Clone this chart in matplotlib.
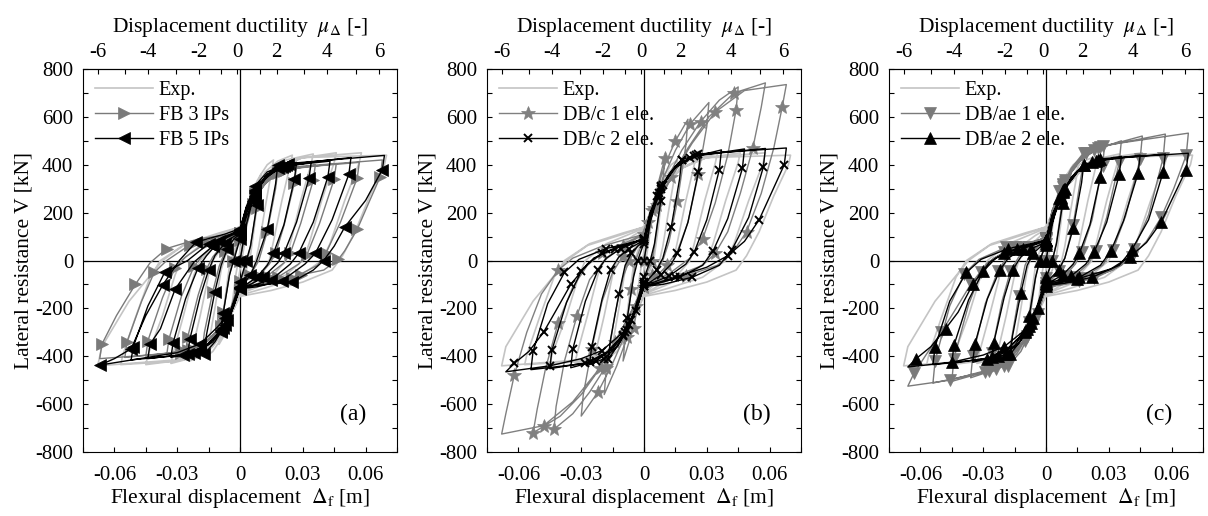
import matplotlib.pyplot as plt
import numpy as np

plt.rcParams['font.family'] = ['Liberation Serif', 'DejaVu Serif']
plt.rcParams['mathtext.fontset'] = 'stix'
plt.rcParams['axes.unicode_minus'] = False

# ---- data: (flexural displacement [m], lateral force [kN]) ----
exp_path = [
    (0, 0), (0.002, 120), (0.004, 210), (0.005, 250),
    (0.004, 200), (0.002, 60), (0, -40), (-0.002, -130), (-0.004, -220), (-0.005, -260),
    (-0.004, -200), (-0.002, -60), (0, 40), (0.002, 130), (0.005, 250), (0.008, 330), (0.010, 360),
    (0.009, 300), (0.007, 150), (0.005, 20), (0.003, -40), (0, -90), (-0.002, -160), (-0.005, -260), (-0.008, -320), (-0.010, -350),
    (-0.009, -290), (-0.007, -150), (-0.005, -20), (-0.003, 40), (0, 100), (0.002, 170), (0.005, 260), (0.010, 360), (0.013, 400), (0.016, 420),
    (0.015, 370), (0.012, 220), (0.009, 60), (0.007, -20), (0.004, -70), (0, -120), (-0.003, -190), (-0.006, -270), (-0.010, -340), (-0.013, -380), (-0.016, -400),
    (-0.015, -350), (-0.012, -200), (-0.009, -40), (-0.007, 20), (-0.003, 70), (0, 120), (0.003, 200), (0.007, 290), (0.012, 370), (0.018, 415), (0.025, 440),
    (0.024, 400), (0.020, 250), (0.016, 80), (0.014, 0), (0.010, -60), (0.005, -100), (0, -140), (-0.004, -220), (-0.008, -300), (-0.013, -360), (-0.018, -395), (-0.024, -420),
    (-0.023, -380), (-0.019, -230), (-0.015, -60), (-0.013, 0), (-0.008, 60), (-0.003, 100), (0, 130), (0.004, 220), (0.009, 310), (0.015, 380), (0.022, 420), (0.035, 445),
    (0.034, 405), (0.029, 250), (0.024, 70), (0.022, 0), (0.016, -60), (0.008, -100), (0, -140), (-0.004, -220), (-0.009, -310), (-0.015, -370), (-0.022, -405), (-0.033, -430),
    (-0.032, -390), (-0.027, -230), (-0.022, -60), (-0.019, 0), (-0.012, 60), (-0.005, 105), (0, 130), (0.004, 210), (0.010, 310), (0.017, 380), (0.027, 425), (0.046, 450),
    (0.045, 410), (0.039, 250), (0.033, 70), (0.030, 0), (0.022, -60), (0.010, -105), (0, -140), (-0.004, -220), (-0.010, -320), (-0.017, -380), (-0.027, -415), (-0.045, -435),
    (-0.044, -395), (-0.037, -230), (-0.031, -60), (-0.028, 0), (-0.018, 70), (-0.007, 110), (0, 135), (0.004, 215), (0.010, 310), (0.018, 385), (0.030, 430), (0.058, 450),
    (0.057, 410), (0.050, 250), (0.043, 70), (0.039, 0), (0.028, -70), (0.012, -115), (0, -145), (-0.004, -220), (-0.010, -320), (-0.018, -385), (-0.030, -420), (-0.057, -435),
    (-0.056, -395), (-0.050, -240), (-0.043, -70), (-0.038, 0), (-0.026, 70), (-0.010, 115), (0, 140), (0.004, 220), (0.010, 310), (0.018, 390), (0.030, 430), (0.070, 440),
    (0.069, 400), (0.062, 270), (0.055, 120), (0.049, 20), (0.044, -40), (0.030, -90), (0.015, -125), (0, -150), (-0.004, -220), (-0.010, -315), (-0.018, -380), (-0.030, -415), (-0.068, -440),
    (-0.066, -360), (-0.053, -170), (-0.037, 0), (-0.027, 63), (-0.010, 110), (0, 140),
]

fb3_path = [
    (0, 0), (0.003, 140), (0.006, 235), (0.009, 290),
    (0.008, 220), (0.005, 60), (0.0035, 0), (0.0015, -55), (0, -85), (-0.003, -160), (-0.006, -240), (-0.009, -290),
    (-0.008, -215), (-0.005, -60), (-0.0035, 0), (-0.0015, 55), (0, 85), (0.003, 165), (0.007, 250), (0.012, 325), (0.018, 370),
    (0.017, 300), (0.013, 120), (0.009, 0), (0.005, -60), (0.002, -90), (0, -105), (-0.003, -180), (-0.007, -255), (-0.012, -320), (-0.018, -370),
    (-0.017, -300), (-0.013, -130), (-0.010, -25), (-0.007, 40), (-0.003, 85), (0, 105), (0.003, 185), (0.007, 260), (0.012, 320), (0.018, 365), (0.027, 390),
    (0.026, 325), (0.021, 145), (0.017, 30), (0.014, -15), (0.009, -65), (0.004, -95), (0, -110), (-0.004, -195), (-0.008, -265), (-0.013, -320), (-0.019, -360), (-0.026, -385),
    (-0.025, -320), (-0.020, -145), (-0.016, -35), (-0.013, 15), (-0.008, 70), (-0.003, 95), (0, 110), (0.003, 190), (0.007, 265), (0.013, 330), (0.021, 375), (0.036, 400),
    (0.035, 335), (0.029, 155), (0.024, 30), (0.021, -10), (0.013, -65), (0.006, -95), (0, -110), (-0.004, -195), (-0.009, -275), (-0.015, -330), (-0.023, -370), (-0.035, -395),
    (-0.034, -330), (-0.028, -150), (-0.022, -25), (-0.018, 20), (-0.011, 75), (-0.004, 100), (0, 112), (0.003, 195), (0.007, 270), (0.013, 335), (0.022, 380), (0.046, 405),
    (0.045, 340), (0.038, 155), (0.032, 25), (0.028, -15), (0.018, -70), (0.007, -100), (0, -110), (-0.004, -200), (-0.009, -280), (-0.016, -335), (-0.025, -375), (-0.045, -400),
    (-0.044, -335), (-0.037, -155), (-0.031, -30), (-0.026, 15), (-0.016, 75), (-0.006, 100), (0, 115), (0.003, 200), (0.007, 275), (0.013, 340), (0.023, 385), (0.057, 410),
    (0.056, 345), (0.048, 160), (0.041, 30), (0.037, -20), (0.025, -75), (0.010, -100), (0, -112), (-0.004, -200), (-0.009, -285), (-0.017, -340), (-0.027, -380), (-0.055, -405),
    (-0.054, -340), (-0.047, -170), (-0.041, -50), (-0.035, 0), (-0.024, 65), (-0.009, 100), (0, 115), (0.003, 205), (0.007, 280), (0.013, 345), (0.024, 390), (0.068, 420),
    (0.067, 350), (0.062, 251), (0.056, 130), (0.050, 40), (0.047, 5), (0.040, -40), (0.029, -60), (0.015, -90), (0, -112), (-0.004, -200), (-0.009, -285), (-0.017, -345), (-0.028, -385), (-0.067, -410),
    (-0.066, -350), (-0.059, -230), (-0.050, -100), (-0.043, -10), (-0.035, 50), (-0.020, 90), (0, 115), (0.003, 205),
]

fb5_path = [
    (0, 0), (0.003, 150), (0.006, 250), (0.009, 310),
    (0.008, 230), (0.005, 60), (0.003, 0), (0.001, -60), (0, -90), (-0.003, -170), (-0.006, -250), (-0.009, -300),
    (-0.008, -220), (-0.005, -60), (-0.003, 0), (-0.001, 60), (0, 90), (0.003, 180), (0.007, 270), (0.012, 350), (0.018, 397),
    (0.017, 320), (0.013, 130), (0.008, 0), (0.005, -60), (0.002, -95), (0, -110), (-0.003, -190), (-0.007, -270), (-0.012, -340), (-0.017, -390),
    (-0.016, -310), (-0.012, -130), (-0.009, -20), (-0.006, 50), (-0.003, 90), (0, 110), (0.003, 200), (0.007, 280), (0.012, 340), (0.018, 385), (0.027, 410),
    (0.026, 340), (0.021, 150), (0.016, 30), (0.013, -20), (0.008, -70), (0.003, -100), (0, -115), (-0.004, -210), (-0.008, -280), (-0.013, -340), (-0.019, -375), (-0.025, -395),
    (-0.024, -330), (-0.019, -150), (-0.015, -40), (-0.012, 20), (-0.007, 75), (-0.003, 100), (0, 115), (0.003, 200), (0.007, 285), (0.013, 350), (0.020, 390), (0.034, 410),
    (0.033, 345), (0.027, 160), (0.021, 30), (0.018, -10), (0.011, -70), (0.005, -100), (0, -115), (-0.004, -210), (-0.009, -290), (-0.015, -350), (-0.022, -385), (-0.033, -405),
    (-0.032, -345), (-0.026, -160), (-0.020, -30), (-0.016, 20), (-0.010, 80), (-0.004, 105), (0, 120), (0.003, 210), (0.007, 290), (0.013, 355), (0.021, 395), (0.043, 415),
    (0.042, 350), (0.035, 160), (0.028, 30), (0.024, -15), (0.015, -80), (0.006, -105), (0, -115), (-0.004, -210), (-0.009, -295), (-0.016, -355), (-0.025, -390), (-0.044, -410),
    (-0.043, -350), (-0.038, -285), (-0.031, -120), (-0.022, -7), (-0.013, 60), (-0.005, 105), (0, 125), (0.003, 215), (0.007, 295), (0.013, 360), (0.022, 400), (0.053, 430),
    (0.052, 360), (0.044, 170), (0.036, 30), (0.031, -15), (0.020, -85), (0.008, -110), (0, -118), (-0.004, -215), (-0.009, -300), (-0.017, -360), (-0.027, -395), (-0.052, -415),
    (-0.051, -360), (-0.044, -190), (-0.036, -50), (-0.025, 0), (-0.015, 70), (-0.006, 105), (0, 128), (0.003, 225), (0.007, 310), (0.013, 370), (0.023, 405), (0.069, 439),
    (0.068, 380), (0.060, 251), (0.050, 139), (0.045, 60), (0.040, 0), (0.035, -40), (0.025, -90), (0.012, -100), (0, -111), (-0.004, -200), (-0.007, -240), (-0.011, -280), (-0.019, -348), (-0.030, -385), (-0.067, -437),
    (-0.060, -410), (-0.052, -369), (-0.045, -230), (-0.037, -104), (-0.029, 0), (-0.021, 77), (-0.007, 111), (0, 133), (0.003, 220),
]

dbc1_path = [
    (0, 0), (0.004, 200), (0.007, 330), (0.010, 430),
    (0.009, 330), (0.006, 120), (0.004, 0), (0.001, -60), (-0.002, -150), (-0.005, -280), (-0.010, -420),
    (-0.009, -320), (-0.006, -120), (-0.004, 0), (-0.001, 70), (0.002, 160), (0.006, 290), (0.010, 400), (0.015, 500), (0.021, 590),
    (0.020, 480), (0.016, 250), (0.012, 80), (0.009, 0), (0.004, -60), (0, -100), (-0.004, -200), (-0.008, -320), (-0.013, -440), (-0.019, -560),
    (-0.018, -450), (-0.014, -230), (-0.010, -70), (-0.007, 0), (-0.003, 60), (0, 100), (0.004, 210), (0.009, 340), (0.015, 460), (0.022, 570), (0.031, 660),
    (0.030, 560), (0.026, 360), (0.021, 160), (0.016, 40), (0.011, -20), (0.005, -75), (0, -110), (-0.004, -190), (-0.009, -310), (-0.015, -430), (-0.022, -550), (-0.030, -650),
    (-0.029, -560), (-0.025, -370), (-0.020, -170), (-0.015, -50), (-0.010, 20), (-0.004, 75), (0, 110), (0.005, 220), (0.011, 340), (0.018, 460), (0.027, 580), (0.036, 670), (0.045, 725),
    (0.044, 630), (0.040, 440), (0.034, 240), (0.028, 90), (0.022, 10), (0.012, -55), (0, -110), (-0.005, -200), (-0.011, -320), (-0.018, -440), (-0.026, -550), (-0.034, -640), (-0.043, -705),
    (-0.042, -610), (-0.038, -420), (-0.032, -230), (-0.026, -80), (-0.019, 0), (-0.010, 60), (0, 110), (0.006, 230), (0.013, 350), (0.021, 470), (0.031, 600), (0.043, 700), (0.058, 742),
    (0.056, 640), (0.052, 470), (0.046, 280), (0.040, 120), (0.034, 30), (0.028, -20), (0.015, -65), (0, -110), (-0.006, -210), (-0.013, -330), (-0.021, -450), (-0.030, -560), (-0.040, -650), (-0.053, -720),
    (-0.051, -620), (-0.047, -450), (-0.041, -260), (-0.034, -110), (-0.027, -20), (-0.020, 30), (-0.010, 70), (0, 110), (0.006, 230), (0.014, 360), (0.023, 490), (0.034, 620), (0.048, 710), (0.068, 735),
    (0.066, 640), (0.062, 470), (0.056, 280), (0.049, 120), (0.042, 30), (0.035, -20), (0.020, -65), (0, -110), (-0.006, -215), (-0.014, -340), (-0.023, -470), (-0.034, -590), (-0.048, -690), (-0.068, -725),
    (-0.066, -640), (-0.062, -480), (-0.056, -300), (-0.049, -140), (-0.041, -40), (-0.034, 10), (-0.020, 60), (0, 110),
]

dbc2_path = [
    (0, 0), (0.003, 160), (0.006, 270), (0.009, 330),
    (0.008, 250), (0.005, 70), (0.003, 0), (0.001, -50), (0, -70), (-0.003, -160), (-0.006, -250), (-0.009, -320),
    (-0.008, -240), (-0.005, -70), (-0.003, 0), (-0.001, 50), (0, 70), (0.003, 170), (0.007, 270), (0.012, 360), (0.018, 420),
    (0.017, 340), (0.013, 140), (0.009, 10), (0.006, -40), (0.002, -80), (0, -90), (-0.003, -180), (-0.007, -270), (-0.012, -350), (-0.017, -410),
    (-0.016, -330), (-0.012, -140), (-0.009, -20), (-0.006, 30), (-0.003, 60), (0, 80), (0.003, 180), (0.007, 280), (0.012, 360), (0.018, 420), (0.027, 450),
    (0.026, 370), (0.021, 160), (0.016, 30), (0.013, -15), (0.008, -60), (0.003, -90), (0, -100), (-0.004, -200), (-0.008, -290), (-0.013, -360), (-0.019, -410), (-0.026, -435),
    (-0.025, -360), (-0.020, -160), (-0.016, -40), (-0.012, 15), (-0.007, 50), (-0.003, 70), (0, 85), (0.003, 190), (0.008, 300), (0.014, 380), (0.022, 430), (0.037, 462),
    (0.036, 380), (0.030, 170), (0.024, 35), (0.020, -15), (0.012, -65), (0.005, -90), (0, -100), (-0.004, -205), (-0.009, -300), (-0.015, -370), (-0.023, -420), (-0.035, -448),
    (-0.034, -370), (-0.028, -170), (-0.022, -40), (-0.018, 10), (-0.011, 50), (-0.004, 75), (0, 90), (0.003, 195), (0.008, 305), (0.015, 390), (0.024, 435), (0.048, 466),
    (0.047, 385), (0.040, 175), (0.033, 40), (0.028, -20), (0.017, -70), (0.007, -95), (0, -105), (-0.004, -210), (-0.010, -310), (-0.017, -380), (-0.026, -425), (-0.045, -452),
    (-0.044, -375), (-0.037, -175), (-0.030, -45), (-0.024, 10), (-0.014, 50), (-0.005, 75), (0, 90), (0.003, 200), (0.008, 310), (0.015, 395), (0.025, 440), (0.058, 468),
    (0.057, 390), (0.050, 180), (0.042, 45), (0.036, -20), (0.023, -70), (0.009, -100), (0, -108), (-0.004, -215), (-0.010, -315), (-0.018, -385), (-0.028, -430), (-0.054, -456),
    (-0.053, -380), (-0.046, -180), (-0.038, -50), (-0.031, 5), (-0.018, 50), (-0.006, 75), (0, 90), (0.003, 200), (0.009, 315), (0.016, 400), (0.026, 445), (0.068, 470),
    (0.067, 400), (0.061, 285), (0.055, 170), (0.048, 80), (0.040, 20), (0.030, -28), (0.015, -70), (0, -110), (-0.004, -210), (-0.010, -300), (-0.020, -376), (-0.030, -410), (-0.045, -440), (-0.066, -465),
    (-0.062, -430), (-0.055, -380), (-0.048, -300), (-0.0425, -216), (-0.035, -100), (-0.027, -14), (-0.020, 30), (-0.012, 56), (0, 90),
]

dbae1_path = [
    (0, 0), (0.003, 170), (0.006, 290), (0.009, 350),
    (0.008, 260), (0.005, 75), (0.003, 0), (0.001, -55), (0, -75), (-0.003, -170), (-0.006, -270), (-0.009, -340),
    (-0.008, -255), (-0.005, -75), (-0.003, 0), (-0.001, 50), (0, 70), (0.003, 180), (0.007, 290), (0.012, 385), (0.018, 450),
    (0.017, 365), (0.013, 150), (0.009, 10), (0.006, -45), (0.002, -85), (0, -95), (-0.003, -190), (-0.007, -290), (-0.012, -380), (-0.018, -440),
    (-0.017, -355), (-0.013, -150), (-0.010, -20), (-0.007, 35), (-0.003, 65), (0, 85), (0.003, 190), (0.008, 305), (0.013, 390), (0.019, 450), (0.028, 480),
    (0.027, 395), (0.022, 170), (0.017, 35), (0.014, -15), (0.009, -65), (0.003, -95), (0, -105), (-0.004, -210), (-0.009, -315), (-0.014, -390), (-0.020, -440), (-0.027, -470),
    (-0.026, -385), (-0.021, -170), (-0.017, -45), (-0.013, 15), (-0.008, 55), (-0.003, 75), (0, 90), (0.003, 200), (0.008, 315), (0.015, 405), (0.023, 460), (0.036, 500),
    (0.035, 410), (0.029, 180), (0.024, 40), (0.020, -15), (0.013, -70), (0.005, -95), (0, -105), (-0.004, -215), (-0.009, -320), (-0.016, -400), (-0.024, -455), (-0.036, -490),
    (-0.035, -400), (-0.029, -180), (-0.023, -45), (-0.019, 10), (-0.012, 55), (-0.004, 80), (0, 95), (0.003, 205), (0.008, 320), (0.016, 415), (0.025, 470), (0.046, 520),
    (0.045, 425), (0.038, 185), (0.032, 45), (0.027, -20), (0.017, -75), (0.007, -100), (0, -110), (-0.004, -220), (-0.010, -330), (-0.018, -410), (-0.027, -460), (-0.045, -505),
    (-0.044, -410), (-0.037, -185), (-0.031, -50), (-0.025, 10), (-0.015, 55), (-0.005, 80), (0, 95), (0.003, 210), (0.009, 330), (0.016, 420), (0.026, 475), (0.057, 528),
    (0.056, 430), (0.049, 190), (0.042, 50), (0.036, -20), (0.023, -75), (0.009, -100), (0, -112), (-0.004, -225), (-0.010, -335), (-0.018, -415), (-0.029, -465), (-0.054, -512),
    (-0.053, -420), (-0.046, -190), (-0.039, -55), (-0.032, 5), (-0.019, 55), (-0.006, 80), (0, 95), (0.003, 210), (0.009, 335), (0.017, 425), (0.027, 480), (0.068, 532),
    (0.067, 440), (0.061, 300), (0.055, 180), (0.048, 80), (0.041, 15), (0.032, -40), (0.016, -85), (0, -112), (-0.004, -225), (-0.010, -330), (-0.020, -420), (-0.031, -465), (-0.046, -500), (-0.066, -525),
    (-0.063, -470), (-0.057, -390), (-0.050, -300), (-0.044, -215), (-0.036, -100), (-0.028, -10), (-0.020, 35), (-0.012, 60), (0, 95),
]

dbae2_path = [
    (0, 0), (0.003, 150), (0.006, 260), (0.009, 320),
    (0.008, 240), (0.005, 70), (0.003, 0), (0.001, -50), (0, -70), (-0.003, -155), (-0.006, -240), (-0.009, -310),
    (-0.008, -230), (-0.005, -70), (-0.003, 0), (-0.001, 45), (0, 65), (0.003, 160), (0.007, 260), (0.012, 345), (0.018, 400),
    (0.017, 325), (0.013, 135), (0.009, 10), (0.006, -40), (0.002, -75), (0, -85), (-0.003, -170), (-0.007, -260), (-0.012, -335), (-0.017, -390),
    (-0.016, -315), (-0.012, -135), (-0.009, -20), (-0.006, 30), (-0.003, 55), (0, 75), (0.003, 170), (0.007, 265), (0.012, 345), (0.018, 400), (0.027, 425),
    (0.026, 350), (0.021, 150), (0.016, 30), (0.013, -15), (0.008, -60), (0.003, -85), (0, -95), (-0.004, -190), (-0.008, -275), (-0.013, -345), (-0.019, -390), (-0.026, -415),
    (-0.025, -345), (-0.020, -155), (-0.016, -40), (-0.012, 15), (-0.007, 50), (-0.003, 65), (0, 80), (0.003, 180), (0.008, 285), (0.014, 365), (0.022, 410), (0.036, 435),
    (0.035, 360), (0.029, 160), (0.023, 35), (0.019, -15), (0.012, -65), (0.005, -85), (0, -95), (-0.004, -195), (-0.009, -285), (-0.015, -355), (-0.023, -400), (-0.035, -425),
    (-0.034, -350), (-0.028, -160), (-0.022, -40), (-0.018, 10), (-0.011, 50), (-0.004, 70), (0, 85), (0.003, 185), (0.008, 290), (0.015, 370), (0.024, 415), (0.045, 440),
    (0.044, 365), (0.037, 165), (0.031, 40), (0.026, -20), (0.016, -70), (0.006, -90), (0, -100), (-0.004, -200), (-0.010, -295), (-0.017, -360), (-0.026, -405), (-0.045, -430),
    (-0.044, -355), (-0.037, -165), (-0.030, -45), (-0.024, 10), (-0.014, 50), (-0.005, 70), (0, 85), (0.003, 190), (0.008, 295), (0.015, 375), (0.025, 420), (0.057, 445),
    (0.056, 370), (0.049, 170), (0.041, 45), (0.035, -20), (0.022, -70), (0.009, -95), (0, -105), (-0.004, -205), (-0.010, -300), (-0.018, -365), (-0.028, -410), (-0.054, -435),
    (-0.053, -360), (-0.046, -170), (-0.038, -50), (-0.031, 5), (-0.018, 50), (-0.006, 72), (0, 85), (0.003, 190), (0.009, 300), (0.016, 380), (0.026, 425), (0.068, 448),
    (0.067, 380), (0.061, 270), (0.055, 160), (0.048, 75), (0.040, 15), (0.031, -35), (0.015, -77), (0, -105), (-0.004, -200), (-0.010, -290), (-0.020, -360), (-0.030, -395), (-0.045, -425), (-0.066, -445),
    (-0.062, -410), (-0.055, -360), (-0.048, -285), (-0.042, -216), (-0.035, -100), (-0.027, -7), (-0.020, 30), (-0.012, 55), (0, 85),
]

# ductility axis (top): labelled positions (even ductility) and odd-ductility minor ticks, in metres
mu_major = [-0.068, -0.044, -0.0195, -0.0013, 0.0175, 0.0415, 0.0664]
mu_labels = ['-6', '-4', '-2', '0', '2', '4', '6']
mu_minor = [-0.0551, -0.0305, -0.009, 0.0095, 0.0306, 0.0552]

x_ticks = [-0.06, -0.03, 0, 0.03, 0.06]
x_ticklabels = ['-0.06', '-0.03', '0', '0.03', '0.06']
y_ticks = [-800, -600, -400, -200, 0, 200, 400, 600, 800]

panels = [
    ('(a)', [(exp_path, '#c4c4c4', None, 0, 'Exp.', 1.2),
             (fb3_path, '#7a7a7a', '>', 8, 'FB 3 IPs', 1.0),
             (fb5_path, 'black', '<', 8, 'FB 5 IPs', 1.0)]),
    ('(b)', [(exp_path, '#c4c4c4', None, 0, 'Exp.', 1.2),
             (dbc1_path, '#808080', '*', 10, 'DB/c 1 ele.', 1.0),
             (dbc2_path, 'black', 'x', 5.5, 'DB/c 2 ele.', 1.0)]),
    ('(c)', [(exp_path, '#c4c4c4', None, 0, 'Exp.', 1.2),
             (dbae1_path, '#7a7a7a', 'v', 8, 'DB/ae 1 ele.', 1.0),
             (dbae2_path, 'black', '^', 8, 'DB/ae 2 ele.', 1.0)]),
]

fig = plt.figure(figsize=(12.08, 5.16), dpi=100)
lefts = [83, 487, 889]
fs = 15

for left, (tag, series) in zip(lefts, panels):
    ax = fig.add_axes([left / 1208, 1 - 452 / 516, 314 / 1208, 383 / 516])
    ax.axhline(0, color='black', lw=0.9, zorder=1)
    ax.axvline(0, color='black', lw=0.9, zorder=1)
    for k, (path, color, marker, ms, label, lw) in enumerate(series):
        xy = np.array(path)
        ax.plot(xy[:, 0], xy[:, 1], color=color, lw=lw, marker=marker, ms=ms,
                markevery=2 if marker != '*' else 3, mew=1.4 if marker == 'x' else 0.5,
                label=label, zorder=2 + k)

    ax.set_xlim(-0.075, 0.075)
    ax.set_ylim(-800, 800)
    ax.set_xticks(x_ticks, x_ticklabels)
    ax.set_xticks(np.arange(-0.075, 0.0751, 0.015), minor=True)
    ax.set_yticks(y_ticks, [str(v) for v in y_ticks])
    ax.set_yticks(np.arange(-800, 801, 100), minor=True)
    ax.tick_params(which='both', direction='in', length=3.5, width=0.8,
                   right=True, labelsize=fs)
    ax.tick_params(axis='x', pad=10)
    ax.tick_params(axis='y', pad=7)
    ax.set_xlabel(r'Flexural displacement  $\Delta_{\mathrm{f}}$ [m]', fontsize=15.5, labelpad=1)
    ax.set_ylabel('Lateral resistance V [kN]', fontsize=15.5, labelpad=1)

    top = ax.secondary_xaxis('top')
    top.set_xticks(mu_major, mu_labels)
    top.set_xticks(mu_minor, minor=True)
    top.tick_params(which='both', direction='in', length=3.5, width=0.8, labelsize=fs, pad=5)
    top.set_xlabel(r'Displacement ductility  $\mu_{\Delta}$ [-]', fontsize=15.5, labelpad=8)

    ax.text(0.054, -645, tag, fontsize=17, ha='center', va='center')
    ax.legend(loc='upper left', frameon=False, fontsize=14.5, handlelength=2.9,
              handletextpad=0.25, labelspacing=0.3, borderaxespad=0.3, borderpad=0.3)

fig.savefig('out.png', dpi=100)
